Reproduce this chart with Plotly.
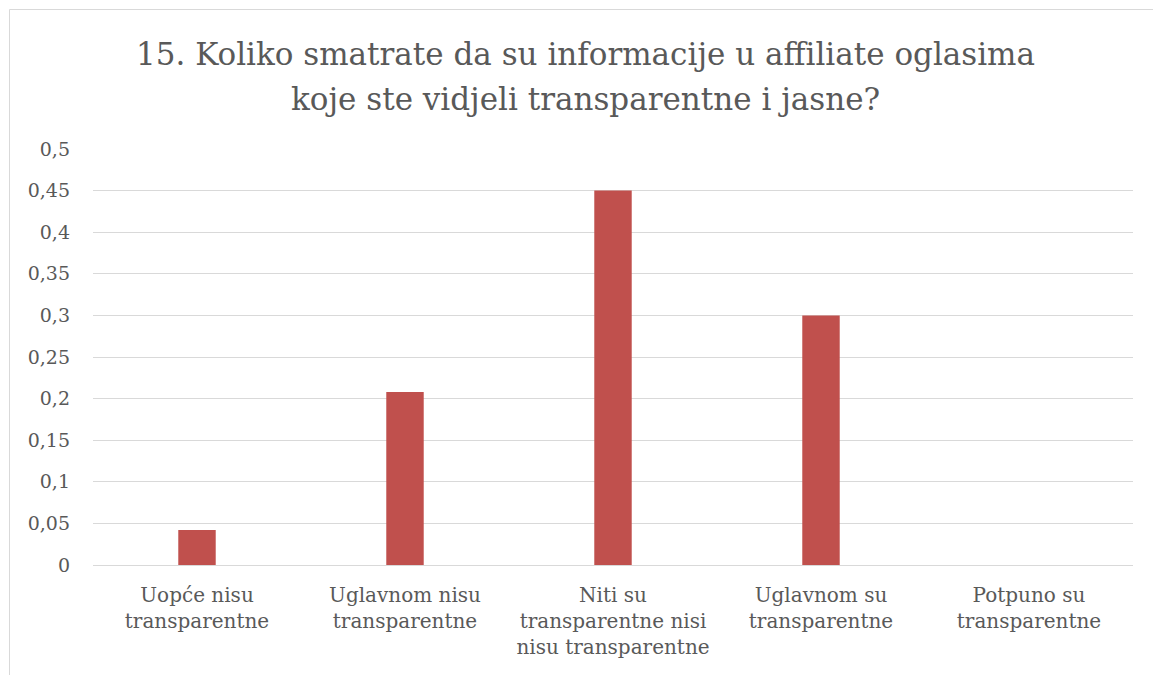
import plotly.graph_objects as go

categories = ["Uopće nisu<br>transparentne", "Uglavnom nisu<br>transparentne",
              "Niti su<br>transparentne nisi<br>nisu transparentne",
              "Uglavnom su<br>transparentne", "Potpuno su<br>transparentne"]
values = [0.042, 0.208, 0.45, 0.3, 0.0]
tick_vals = [0, 0.05, 0.1, 0.15, 0.2, 0.25, 0.3, 0.35, 0.4, 0.45, 0.5]
tick_text = ["0", "0,05", "0,1", "0,15", "0,2", "0,25", "0,3", "0,35", "0,4", "0,45", "0,5"]
title_lines = ["15. Koliko smatrate da su informacije u affiliate oglasima",
               "koje ste vidjeli transparentne i jasne?"]

W, H = 1153, 675
L, R, T, B = 93, 20, 149, 110
pw = W - L - R
ph = H - T - B

def px(x):
    return (x - L) / pw

def py(y):
    return (H - B - y) / ph

FONT = "DejaVu Serif"
GRAY = "#595959"

fig = go.Figure(go.Bar(x=categories, y=values, marker_color="#C0504D", marker_line_width=0,
                       hoverinfo="skip"))

title_y = [54, 99]
annotations = [dict(text=t, xref="paper", yref="paper", x=px(585), y=py(yy),
                    xanchor="center", yanchor="middle", showarrow=False,
                    font=dict(size=31, color=GRAY, family=FONT))
               for t, yy in zip(title_lines, title_y)]

fig.update_layout(
    width=W, height=H,
    margin=dict(l=L, r=R, t=T, b=B),
    paper_bgcolor="white", plot_bgcolor="white",
    bargap=0.82,
    showlegend=False,
    font=dict(family=FONT, color=GRAY),
    xaxis=dict(showgrid=False, showline=False, ticks="", tickfont=dict(size=20, color=GRAY, family=FONT),
               ticklabelstandoff=16),
    yaxis=dict(range=[0, 0.5], tickvals=tick_vals, ticktext=tick_text, showgrid=True,
               gridcolor="#d9d9d9", gridwidth=1, zeroline=True, zerolinecolor="#d9d9d9", zerolinewidth=1,
               showline=False, ticks="", tickfont=dict(size=19, color=GRAY, family=FONT),
               ticklabelstandoff=22),
    shapes=[dict(type="rect", xref="paper", yref="paper",
                 x0=px(9.5), x1=px(1200), y0=py(720), y1=py(9.5),
                 line=dict(color="#d9d9d9", width=1), fillcolor="rgba(0,0,0,0)", layer="below")],
    annotations=annotations,
)

fig.write_html("out.html", config={"displayModeBar": False},
               post_script="document.body.style.margin='0px';")
